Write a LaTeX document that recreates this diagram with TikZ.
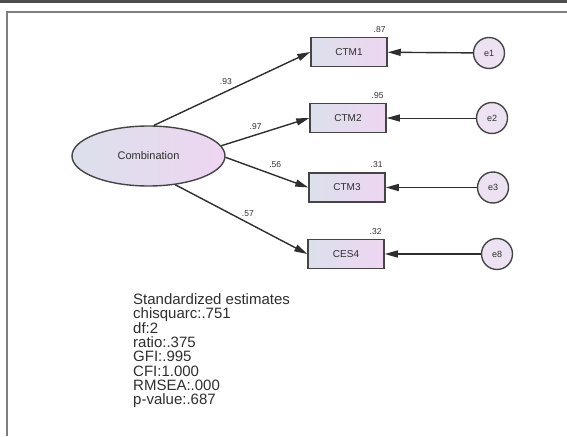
\documentclass[tikz,border=0pt]{standalone}
\usepackage{fontspec}
\setmainfont{Liberation Sans}
\usetikzlibrary{shapes.geometric,arrows.meta}
\definecolor{inkgray}{HTML}{2E2E2E}
\definecolor{edgegray}{HTML}{454545}
\definecolor{shadeL}{HTML}{DCE0EC}
\definecolor{shadeR}{HTML}{EED6F1}
\definecolor{errfill}{HTML}{ECE2F1}
\definecolor{framegray}{HTML}{7E7E7E}
\definecolor{bargray}{HTML}{4D4D4D}
\tikzset{
  observed/.style={draw=edgegray, line width=1.5pt, rectangle, minimum width=76pt,
    minimum height=29pt, inner sep=0pt, left color=shadeL, right color=shadeR,
    text=inkgray, font=\fontsize{10}{12}\selectfont},
  latent/.style={draw=edgegray, line width=1.4pt, ellipse, minimum width=153pt,
    minimum height=60pt, inner sep=0pt, left color=shadeL, right color=shadeR,
    text=inkgray, font=\fontsize{11}{13}\selectfont},
  errnode/.style={draw=edgegray, line width=1.4pt, circle, minimum size=31pt,
    inner sep=0pt, fill=errfill, text=inkgray, font=\fontsize{9}{11}\selectfont},
  path/.style={draw=inkgray, line width=1.4pt, -{Triangle[length=13pt,width=7pt]}},
  coef/.style={font=\fontsize{8.5}{10}\selectfont, text=inkgray, inner sep=1pt},
  rsq/.style={font=\fontsize{8.5}{10}\selectfont, text=inkgray, inner sep=1pt, anchor=south east}
}
\begin{document}
\begin{tikzpicture}[x=1pt,y=-1pt]
\useasboundingbox (0,0) rectangle (567,436);
% window frame
\fill[bargray] (0,0) rectangle (567,2.8);
\draw[framegray, line width=2pt] (7,436) -- (7,12) -- (567,12);

% latent variable
\node[latent] (comb) at (148.5,156) {Combination};

% indicators
\node[observed] (ctm1) at (349,52) {CTM1};
\node[observed] (ctm2) at (348,118) {CTM2};
\node[observed] (ctm3) at (347,187.5) {CTM3};
\node[observed] (ces4) at (346,254) {CES4};

% error terms
\node[errnode] (e1) at (489,53) {e1};
\node[errnode] (e2) at (492,118) {e2};
\node[errnode] (e3) at (493,187.5) {e3};
\node[errnode] (e8) at (497,254) {e8};

% squared multiple correlations
\node[rsq] at ([xshift=-1pt,yshift=3pt]ctm1.north east) {.87};
\node[rsq] at ([xshift=-2pt,yshift=3pt]ctm2.north east) {.95};
\node[rsq] at ([xshift=-2pt,yshift=3pt]ctm3.north east) {.31};
\node[rsq] at ([xshift=-2pt,yshift=3pt]ces4.north east) {.32};

% standardized loadings
\draw[path] (comb.80) -- node[coef, pos=0.46, above=5pt] {.93} (ctm1.west);
\draw[path] (comb.8) -- node[coef, pos=0.39, above=4pt] {.97} (ctm2.west);
\draw[path] (comb.-1.5) -- node[coef, pos=0.6, above=6pt] {.56} (ctm3.west);
\draw[path] (comb.-47) -- node[coef, pos=0.55, above=5pt] {.57} (ces4.west);

% residual paths
\draw[path] (e1) -- (ctm1);
\draw[path, line width=1pt] (e2) -- (ctm2);
\draw[path] (e3) -- (ctm3);
\draw[path] (e8) -- (ces4);

% fit summary
\node[anchor=north west, inner sep=0pt, align=left, text=inkgray,
  font=\fontsize{15}{14.3}\selectfont] (fit) at (133,293.5)
  {Standardized estimates\\chisquarc:.751\\df:2\\ratio:.375\\GFI:.995\\CFI:1.000\\RMSEA:.000\\p-value:.687};
\end{tikzpicture}
\end{document}
